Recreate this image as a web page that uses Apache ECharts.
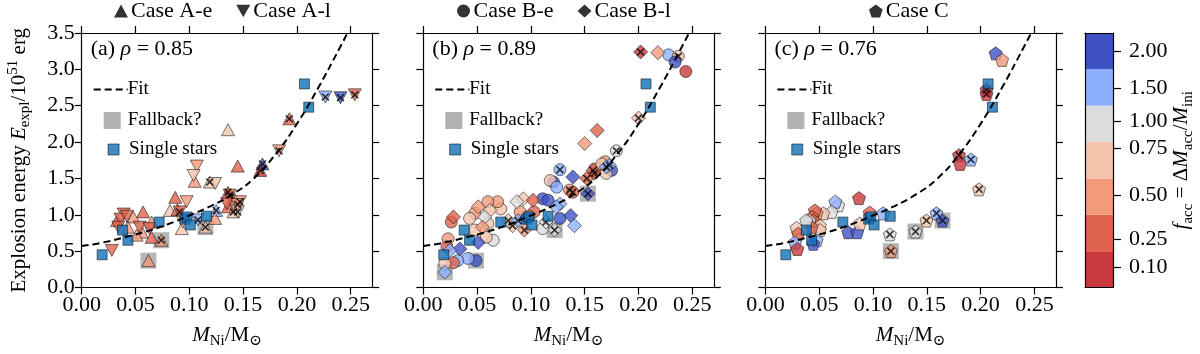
<!DOCTYPE html>
<html>
<head>
<meta charset="utf-8">
<script src="https://cdn.jsdelivr.net/npm/echarts@6/dist/echarts.min.js"></script>
<style>
  html, body { margin: 0; padding: 0; background: #fff; }
  #main { width: 1200px; height: 354px; }
</style>
</head>
<body>
<div id="main"></div>
<script>
// axis ticks
var xTicks = [0, 0.05, 0.10, 0.15, 0.20, 0.25];
var yTicks = [0, 0.5, 1.0, 1.5, 2.0, 2.5, 3.0, 3.5];

// colour bar: f_acc bins (bottom to top) and where their labels sit (in bin units)
var faccTicks = [0.10, 0.25, 0.50, 0.75, 1.00, 1.50, 2.00];
var faccColors = ['#c9383a', '#df634e', '#f39a7b', '#f3c5ad', '#dcdcdc', '#8db0fd', '#3f52c4'];
var cbarTickPos = [0.55, 1.34, 2.53, 3.83, 4.58, 5.49, 6.5];

// fit curve
var fitX = [0, 0.02, 0.04, 0.06, 0.08, 0.10, 0.12, 0.14, 0.16, 0.18, 0.20, 0.22, 0.24, 0.247];
var fitY = [0.57, 0.62, 0.69, 0.77, 0.87, 0.99, 1.12, 1.28, 1.50, 1.83, 2.25, 2.75, 3.3, 3.5];

var rhoValues = ['0.85', '0.89', '0.76'];

// [M_Ni, E_expl, f_acc, hatched, fallback]
var singleStars = [
  [0.019, 0.45], [0.038, 0.79], [0.043, 0.65], [0.072, 0.90], [0.096, 0.94],
  [0.098, 0.97], [0.101, 0.86], [0.116, 0.98], [0.207, 2.80], [0.211, 2.48]
];

var caseAe = [
  [0.136, 2.17, 0.75, 0, 0], [0.193, 2.32, 0.25, 1, 0], [0.145, 1.67, 0.25, 0, 0],
  [0.168, 1.70, 2.00, 1, 0], [0.166, 1.61, 0.10, 1, 0], [0.105, 1.46, 0.50, 0, 0],
  [0.119, 1.45, 0.75, 1, 0], [0.136, 1.31, 0.25, 1, 0], [0.142, 1.22, 0.25, 0, 0],
  [0.141, 1.04, 0.75, 1, 0], [0.136, 1.11, 0.25, 0, 0], [0.125, 1.06, 1.50, 1, 0],
  [0.124, 0.95, 0.50, 0, 0], [0.115, 0.83, 0.75, 1, 1], [0.093, 0.81, 0.75, 0, 0],
  [0.087, 1.24, 0.25, 0, 0], [0.082, 1.06, 0.75, 0, 0], [0.089, 1.07, 0.25, 0, 0],
  [0.057, 1.04, 0.25, 0, 0], [0.048, 0.97, 0.50, 0, 0], [0.033, 0.92, 0.25, 0, 0],
  [0.056, 0.76, 0.50, 0, 0], [0.051, 0.72, 0.50, 0, 0], [0.065, 0.69, 0.25, 0, 0],
  [0.062, 0.37, 0.50, 0, 1], [0.065, 0.90, 0.50, 0, 0], [0.043, 0.83, 0.50, 0, 0],
  [0.074, 0.65, 0.50, 1, 1]
];
var caseAl = [
  [0.1835, 1.88, 0.50, 1, 0], [0.2265, 2.62, 1.50, 1, 0], [0.2405, 2.61, 2.00, 1, 0],
  [0.2538, 2.65, 0.25, 1, 0], [0.107, 1.67, 0.50, 0, 0], [0.104, 1.54, 0.75, 0, 0],
  [0.124, 1.43, 0.75, 0, 0], [0.1375, 1.27, 0.25, 1, 0], [0.135, 1.15, 0.25, 0, 0],
  [0.147, 1.18, 0.50, 1, 0], [0.145, 1.04, 0.75, 1, 0], [0.108, 0.93, 1.50, 1, 0],
  [0.094, 0.90, 0.75, 0, 0], [0.0975, 1.18, 0.50, 0, 0], [0.091, 1.04, 0.25, 1, 0],
  [0.039, 1.01, 0.25, 0, 0], [0.036, 0.94, 0.25, 0, 0], [0.034, 0.83, 0.25, 0, 0],
  [0.054, 0.83, 0.25, 0, 0], [0.063, 0.81, 0.25, 0, 0], [0.028, 0.51, 0.25, 0, 0],
  [0.042, 0.98, 0.25, 0, 0], [0.145, 1.14, 0.50, 1, 0]
];

var caseBe = [
  [0.228, 3.20, 1.50, 0, 0], [0.237, 3.18, 0.75, 1, 0], [0.234, 3.10, 2.00, 0, 0],
  [0.244, 2.97, 0.10, 0, 0], [0.1795, 1.88, 1.00, 1, 0], [0.169, 1.73, 0.50, 0, 0],
  [0.175, 1.61, 2.00, 0, 0], [0.170, 1.57, 0.75, 0, 0], [0.159, 1.63, 0.50, 0, 0],
  [0.136, 1.34, 0.50, 1, 0], [0.139, 1.31, 0.25, 1, 0], [0.127, 1.62, 1.50, 1, 0],
  [0.121, 1.45, 2.00, 0, 0], [0.118, 1.47, 0.75, 0, 0], [0.124, 1.38, 1.50, 0, 0],
  [0.111, 1.22, 2.00, 0, 0], [0.116, 1.20, 2.00, 0, 0], [0.103, 1.04, 0.25, 0, 0],
  [0.127, 0.95, 2.00, 0, 0], [0.111, 0.81, 1.00, 0, 0], [0.072, 1.08, 0.75, 0, 0],
  [0.069, 1.18, 0.50, 0, 0], [0.060, 1.18, 0.50, 0, 0], [0.060, 0.88, 0.75, 0, 0],
  [0.065, 0.65, 1.00, 0, 0], [0.0585, 0.69, 0.75, 0, 0], [0.048, 1.02, 0.50, 0, 0],
  [0.043, 0.95, 0.75, 0, 0], [0.026, 0.90, 0.25, 0, 0], [0.048, 0.79, 0.75, 0, 0],
  [0.023, 0.67, 0.50, 0, 0], [0.022, 0.56, 0.25, 0, 0], [0.049, 0.37, 2.00, 0, 1],
  [0.0415, 0.40, 1.50, 0, 0], [0.032, 0.37, 1.50, 0, 0], [0.028, 0.34, 0.25, 0, 0],
  [0.020, 0.33, 0.75, 0, 0], [0.166, 1.70, 0.75, 0, 0], [0.090, 1.04, 0.50, 0, 0],
  [0.098, 0.98, 0.50, 0, 0]
];
var caseBl = [
  [0.202, 3.24, 0.10, 1, 0], [0.218, 3.23, 0.50, 0, 0], [0.200, 2.33, 0.75, 1, 0],
  [0.1616, 2.16, 0.25, 0, 0], [0.150, 1.98, 0.50, 0, 0], [0.173, 1.68, 1.50, 1, 0],
  [0.159, 1.57, 0.25, 1, 0], [0.152, 1.50, 0.25, 1, 0], [0.153, 1.29, 2.00, 1, 1],
  [0.139, 1.52, 2.00, 0, 0], [0.093, 1.22, 0.75, 0, 0], [0.087, 1.18, 1.00, 0, 0],
  [0.127, 1.15, 1.50, 0, 0], [0.1235, 1.11, 1.50, 0, 0], [0.137, 0.99, 2.00, 0, 0],
  [0.1405, 0.85, 1.50, 0, 0], [0.122, 0.79, 1.00, 1, 1], [0.114, 0.90, 1.00, 1, 0],
  [0.097, 0.95, 1.50, 1, 0], [0.094, 0.79, 0.50, 1, 0], [0.083, 0.85, 0.75, 1, 0],
  [0.079, 0.92, 0.75, 1, 0], [0.088, 0.92, 1.50, 1, 0], [0.062, 1.06, 0.75, 0, 0],
  [0.051, 1.11, 0.50, 0, 0], [0.057, 0.97, 1.00, 0, 0], [0.028, 0.97, 0.25, 0, 0],
  [0.055, 0.83, 0.50, 0, 0], [0.051, 0.62, 2.00, 0, 0], [0.034, 0.53, 2.00, 0, 0],
  [0.0245, 0.51, 1.50, 0, 0], [0.020, 0.21, 1.50, 0, 1], [0.170, 1.66, 1.50, 1, 0],
  [0.158, 1.61, 0.25, 1, 0], [0.102, 1.20, 0.25, 0, 0]
];

var caseC = [
  [0.214, 3.22, 2.00, 0, 0], [0.220, 3.13, 0.50, 0, 0], [0.2055, 2.72, 0.10, 1, 0],
  [0.2055, 2.66, 0.10, 1, 0], [0.180, 1.82, 0.10, 1, 0], [0.181, 1.70, 0.10, 0, 0],
  [0.191, 1.76, 1.50, 1, 0], [0.1986, 1.35, 0.75, 1, 0], [0.087, 1.23, 0.10, 0, 0],
  [0.159, 1.02, 1.50, 1, 0], [0.1646, 0.92, 2.00, 1, 1], [0.1497, 0.92, 0.75, 1, 0],
  [0.1395, 0.77, 1.00, 1, 1], [0.1157, 0.73, 1.00, 1, 0], [0.1166, 0.50, 0.50, 1, 1],
  [0.097, 1.03, 0.25, 0, 0], [0.1095, 1.02, 1.50, 0, 0], [0.077, 0.76, 2.00, 0, 0],
  [0.0853, 0.76, 2.00, 0, 0], [0.0878, 0.88, 0.75, 0, 0], [0.0677, 1.13, 1.00, 0, 0],
  [0.065, 1.18, 1.50, 0, 0], [0.0615, 1.04, 1.00, 0, 0], [0.0538, 1.02, 0.75, 0, 0],
  [0.0476, 1.02, 0.50, 0, 0], [0.046, 1.06, 0.25, 0, 0], [0.0434, 0.97, 0.25, 0, 0],
  [0.0445, 0.92, 0.25, 0, 0], [0.041, 0.92, 1.00, 0, 0], [0.0507, 0.85, 0.75, 0, 0],
  [0.0507, 0.79, 0.75, 0, 0], [0.0476, 0.65, 1.50, 0, 0], [0.0445, 0.60, 2.00, 0, 0],
  [0.029, 0.82, 0.75, 0, 0], [0.0306, 0.74, 0.25, 0, 0], [0.0275, 0.62, 1.50, 0, 0],
  [0.0297, 0.53, 0.10, 0, 0], [0.043, 0.83, 0.25, 0, 0], [0.038, 0.92, 1.00, 0, 0]
];

var FONT = '"Liberation Serif", "DejaVu Serif", serif';
var PENTAGON = 'path://M50,0L97.6,34.5L79.4,90.5L20.6,90.5L2.4,34.5Z';
var DOWN_TRI = 'path://M0,0L10,0L5,9Z';
var CROSS = 'path://M0,1.4L1.4,0L10,8.6L8.6,10Z M8.6,0L10,1.4L1.4,10L0,8.6Z';
var STAR_BLUE = '#1170b6';

var panels = [
  { tag: '(a)', sets: [
    { name: 'Case A-e', data: caseAe, symbol: 'triangle', size: [13, 12], rotate: 0, icon: 'triangle' },
    { name: 'Case A-l', data: caseAl, symbol: 'triangle', size: [13, 12], rotate: 180, icon: DOWN_TRI }
  ], top: 114 },
  { tag: '(b)', sets: [
    { name: 'Case B-e', data: caseBe, symbol: 'circle', size: 12, rotate: 0, icon: 'circle' },
    { name: 'Case B-l', data: caseBl, symbol: 'diamond', size: 14, rotate: 0, icon: 'diamond' }
  ], top: 457 },
  { tag: '(c)', sets: [
    { name: 'Case C', data: caseC, symbol: PENTAGON, size: 13, rotate: 0, icon: PENTAGON }
  ], top: 869 }
];
var panelLeft = [81.7, 423.3, 765.4];
var PW = 290.5, PT = 33, PH = 254.5;

function faccColor(v) {
  var best = 0;
  faccTicks.forEach(function (t, i) { if (Math.abs(t - v) < Math.abs(faccTicks[best] - v)) best = i; });
  return faccColors[best];
}

var axisLineStyle = { color: '#000', width: 1.2 };
var rich = {
  t: { fontFamily: FONT, fontSize: 22, color: '#000' },
  i: { fontFamily: FONT, fontSize: 21, fontStyle: 'italic', color: '#000' },
  n: { fontFamily: FONT, fontSize: 21, color: '#000' },
  s: { fontFamily: FONT, fontSize: 15, color: '#000', verticalAlign: 'bottom', lineHeight: 27 },
  p: { fontFamily: FONT, fontSize: 15, color: '#000', verticalAlign: 'top', lineHeight: 27 }
};

var option = {
  animation: false,
  backgroundColor: '#fff',
  textStyle: { fontFamily: FONT },
  grid: [], xAxis: [], yAxis: [], series: [], legend: [], title: []
};

panels.forEach(function (pn, p) {
  var gl = panelLeft[p];
  option.grid.push({ left: gl, top: PT, width: PW, height: PH });

  ['bottom', 'top'].forEach(function (pos) {
    option.xAxis.push({
      gridIndex: p, type: 'value', position: pos, min: 0, max: 0.27, interval: 0.05, z: 5,
      axisLine: { show: true, onZero: false, lineStyle: axisLineStyle },
      axisTick: { show: true, inside: false, length: 7, customValues: xTicks, lineStyle: axisLineStyle },
      axisLabel: { show: pos === 'bottom', customValues: xTicks, margin: 7, rich: rich,
        formatter: function (v) { return '{t|' + v.toFixed(2) + '}'; } },
      splitLine: { show: false },
      name: pos === 'bottom' ? '{i|M}{s|Ni}{n|/M}{s|\u2299}' : '',
      nameLocation: 'middle', nameGap: 34,
      nameTextStyle: { fontFamily: FONT, fontSize: 21, color: '#000', rich: rich }
    });
  });
  ['left', 'right'].forEach(function (pos) {
    option.yAxis.push({
      gridIndex: p, type: 'value', position: pos, min: 0, max: 3.5, interval: 0.5, z: 5,
      axisLine: { show: true, onZero: false, lineStyle: axisLineStyle },
      axisTick: { show: true, inside: false, length: 7, lineStyle: axisLineStyle },
      axisLabel: { show: pos === 'left' && p === 0, margin: 7, rich: rich,
        formatter: function (v) { return '{t|' + v.toFixed(1) + '}'; } },
      splitLine: { show: false },
      name: (pos === 'left' && p === 0) ? 'Explosion energy {i|E}{s|expl}{n|/10}{p|51}{n| erg}' : '',
      nameLocation: 'middle', nameGap: 49, nameRotate: 90,
      nameTextStyle: { fontFamily: FONT, fontSize: 21, color: '#000', rich: rich }
    });
  });

  var xi = 2 * p, yi = 2 * p;
  var all = [];
  pn.sets.forEach(function (s) { all = all.concat(s.data); });

  // fallback squares behind the models
  option.series.push({
    name: 'Fallback?', type: 'scatter', xAxisIndex: xi, yAxisIndex: yi, z: 1,
    symbol: 'rect', symbolSize: 16,
    itemStyle: { color: '#a9a9a9', opacity: 0.85 },
    data: all.filter(function (d) { return d[4]; }).map(function (d) { return [d[0], d[1]]; })
  });

  pn.sets.forEach(function (s) {
    option.series.push({
      name: s.name, type: 'scatter', xAxisIndex: xi, yAxisIndex: yi, z: 2,
      symbol: s.symbol, symbolSize: s.size, symbolRotate: s.rotate,
      itemStyle: {
        color: function (pr) { return faccColor(pr.value[2]); },
        borderColor: '#111', borderWidth: 0.7
      },
      data: s.data.map(function (d) { return [d[0], d[1], d[2]]; })
    });
  });

  // hatched ("x") models
  option.series.push({
    name: 'hatch', type: 'scatter', xAxisIndex: xi, yAxisIndex: yi, z: 3,
    symbol: CROSS, symbolSize: 8, silent: true,
    itemStyle: { color: '#111', opacity: 0.85 },
    data: all.filter(function (d) { return d[3]; }).map(function (d) { return [d[0], d[1]]; })
  });

  option.series.push({
    name: 'Single stars', type: 'scatter', xAxisIndex: xi, yAxisIndex: yi, z: 4,
    symbol: 'rect', symbolSize: 10,
    itemStyle: { color: STAR_BLUE, borderColor: '#111', borderWidth: 0.7 },
    data: singleStars
  });

  option.series.push({
    name: 'Fit', type: 'line', xAxisIndex: xi, yAxisIndex: yi, z: 5,
    symbol: 'none', smooth: true, color: '#000',
    lineStyle: { color: '#000', width: 2, type: [7, 4] },
    data: fitX.map(function (x, i) { return [x, fitY[i]]; })
  });

  // panel tag and correlation
  option.title.push({
    text: pn.tag + ' {i|\u03c1} = ' + rhoValues[p],
    left: gl + 9, top: 38, padding: 0,
    textStyle: { fontFamily: FONT, fontSize: 22, fontWeight: 'normal', color: '#000',
      rich: { i: { fontFamily: FONT, fontSize: 22, fontStyle: 'italic', color: '#000' } } }
  });

  // case legend above panel
  option.legend.push({
    left: pn.top, top: 0, padding: 0, itemWidth: 14, itemHeight: 13, itemGap: 24, selectedMode: false,
    textStyle: { fontFamily: FONT, fontSize: 22, color: '#000', padding: [0, 0, 0, -2] },
    data: pn.sets.map(function (s) {
      return { name: s.name, icon: s.icon, itemStyle: { color: '#000', borderWidth: 0 } };
    })
  });

  // in-panel legend
  option.legend.push({
    left: gl + 11, top: 80, padding: 0, itemWidth: 34, itemHeight: 14, selectedMode: false,
    textStyle: { fontFamily: FONT, fontSize: 19, color: '#000', padding: [0, 0, 0, -5] },
    data: [{ name: 'Fit', itemStyle: { color: 'rgba(0,0,0,0)', borderColor: 'rgba(0,0,0,0)', borderWidth: 0 } }]
  });
  option.legend.push({
    left: gl + 22, top: 111, padding: 0, itemWidth: 17, itemHeight: 17, selectedMode: false,
    textStyle: { fontFamily: FONT, fontSize: 19, color: '#000', padding: [0, 0, 0, 2] },
    data: [{ name: 'Fallback?', icon: 'rect', itemStyle: { color: '#aaaaaa', opacity: 0.9, borderWidth: 0 } }]
  });
  option.legend.push({
    left: gl + 26, top: 140, padding: 0, itemWidth: 11, itemHeight: 11, selectedMode: false,
    textStyle: { fontFamily: FONT, fontSize: 19, color: '#000', padding: [0, 0, 0, 5] },
    data: [{ name: 'Single stars', icon: 'rect', itemStyle: { color: STAR_BLUE, borderColor: '#111', borderWidth: 0.7 } }]
  });
});

// colour bar
option.grid.push({ left: 1085, top: PT, width: 28, height: PH });
['bottom', 'top'].forEach(function (pos) {
  option.xAxis.push({
    gridIndex: 3, type: 'value', position: pos, min: 0, max: 1, z: 5,
    axisLine: { show: true, onZero: false, lineStyle: axisLineStyle },
    axisTick: { show: false }, axisLabel: { show: false }, splitLine: { show: false }
  });
});
['left', 'right'].forEach(function (pos) {
  option.yAxis.push({
    gridIndex: 3, type: 'value', position: pos, min: 0, max: 7, z: 5,
    axisLine: { show: true, onZero: false, lineStyle: axisLineStyle },
    axisTick: { show: pos === 'right', inside: false, length: 8, customValues: cbarTickPos, lineStyle: axisLineStyle },
    axisLabel: { show: pos === 'right', customValues: cbarTickPos, margin: 16, rich: rich,
      formatter: function (v) {
        var best = 0;
        cbarTickPos.forEach(function (t, i) { if (Math.abs(t - v) < Math.abs(cbarTickPos[best] - v)) best = i; });
        return '{t|' + faccTicks[best].toFixed(2) + '}';
      } },
    splitLine: { show: false },
    name: pos === 'right' ? '{i|f}{s|acc}{n| = \u0394}{i|M}{s|acc}{n|/}{i|M}{s|ini}' : '',
    nameLocation: 'middle', nameGap: 37, nameRotate: 90,
    nameTextStyle: { fontFamily: FONT, fontSize: 21, color: '#000', rich: rich }
  });
});
option.series.push({
  type: 'custom', xAxisIndex: 6, yAxisIndex: 6, z: 0, silent: true,
  renderItem: function (params, api) {
    var i = api.value(0);
    var a = api.coord([0, i + 1]);
    var b = api.coord([1, i]);
    return { type: 'rect', shape: { x: a[0], y: a[1], width: b[0] - a[0], height: b[1] - a[1] },
      style: { fill: faccColors[i] } };
  },
  data: faccColors.map(function (c, i) { return [i]; })
});

var chart = echarts.init(document.getElementById('main'), null, { renderer: 'canvas' });
chart.setOption(option);
</script>
</body>
</html>
